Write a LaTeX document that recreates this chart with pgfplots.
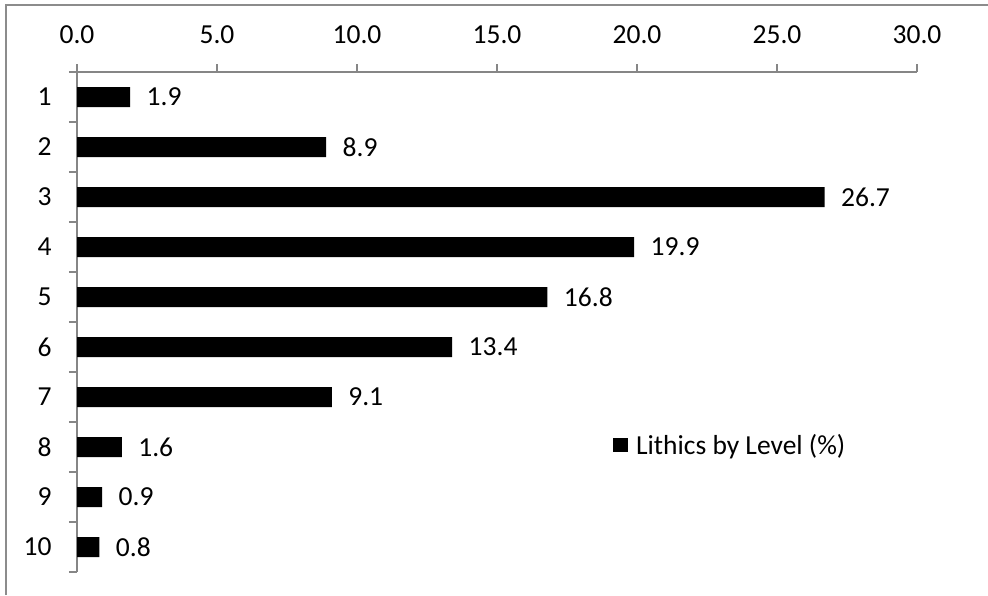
\documentclass[border=0pt]{standalone}
\usepackage{fontspec}
\setmainfont{Carlito}
\usepackage{pgfplots}
\pgfplotsset{compat=1.18}
\definecolor{axisgray}{RGB}{134,134,134}
\definecolor{framegray}{RGB}{140,140,140}
\newcommand{\chartfont}{\fontsize{27.5}{33}\selectfont}

\begin{document}
\begin{tikzpicture}
\path[use as bounding box] (0,0) rectangle (988pt,-595pt);
% outer frame (left and top edges)
\draw[framegray, line width=2pt] (6pt,-595pt) -- (6pt,-5pt) -- (988pt,-5pt);
\begin{axis}[
  at={(77pt,-572pt)}, anchor=south west,
  scale only axis, width=840pt, height=500pt,
  xbar, bar width=20pt,
  xmin=0, xmax=30, ymin=0.5, ymax=10.5,
  axis x line*=top, axis y line*=left,
  axis line style={-, draw=axisgray, line width=1.2pt},
  every tick/.style={axisgray, line width=1.2pt},
  tick align=outside,
  major tick length=8pt,
  xtick={0,5,...,30},
  xticklabel={\pgfmathprintnumber[fixed,precision=1,zerofill]{\tick}},
  xticklabel style={font=\chartfont, yshift=17pt},
  /pgf/number format/assume math mode=true,
  % ticks sit on the category boundaries; labels are moved to the centres
  ytick={0.5,1.5,...,10.5},
  yticklabels={,10,9,8,7,6,5,4,3,2,1},
  yticklabel style={font=\chartfont, xshift=-14pt, yshift=-25pt},
  nodes near coords={\pgfmathprintnumber[fixed,precision=1,zerofill]{\pgfplotspointmeta}},
  every node near coord/.append style={font=\chartfont, anchor=west, xshift=13pt, black},
  legend style={draw=none, fill=none, at={(axis cs:19.14,3.04)}, anchor=west,
    font=\chartfont, inner sep=0pt, cells={anchor=west}},
  legend image code/.code={
    \fill[black] (0pt,-7pt) rectangle (15pt,7pt);
    \path (21pt,0pt);
  },
]
% level (plotted top to bottom as y = 11 - level) and share of lithics
\addplot[fill=black, draw=none] coordinates {
  (1.9,10) (8.9,9) (26.7,8) (19.9,7) (16.8,6)
  (13.4,5) (9.1,4) (1.6,3) (0.9,2) (0.8,1)
};
\addlegendentry{Lithics by Level (\%)}
\end{axis}
\end{tikzpicture}
\end{document}
